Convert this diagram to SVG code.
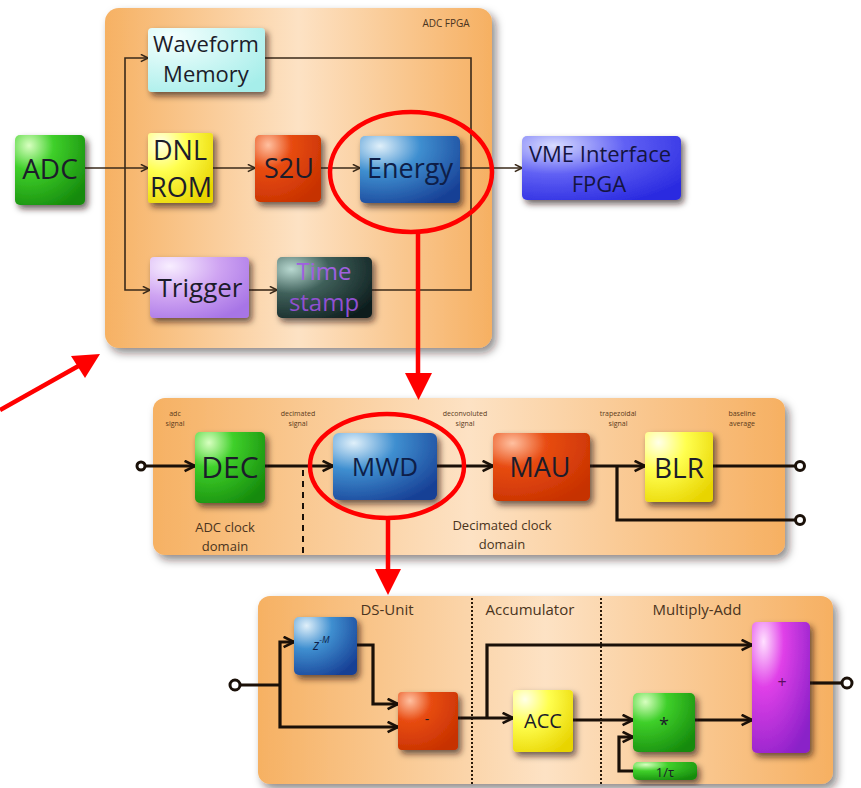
<svg xmlns="http://www.w3.org/2000/svg" width="861" height="788" viewBox="0 0 861 788">
<defs>
<style>
text{font-family:"Open Sans","Noto Sans","Liberation Sans",sans-serif;fill:#1c1c2a}
.big{text-anchor:middle}
.small{font-size:7px;text-anchor:middle;fill:#5a3a1a}
.dom{font-size:13px;text-anchor:middle;fill:#4a3420}
.sec{font-size:15px;text-anchor:middle;fill:#4a3420}
.thin{fill:none;stroke:#3a2a1a;stroke-width:1.6}
.thick{fill:none;stroke:#1a1008;stroke-width:3.2}
.red{fill:none;stroke:#ff0000;stroke-width:4.5}
.redf{fill:#ff0000}
.port{fill:#fff;stroke:#1a1008;stroke-width:3}
</style>
<linearGradient id="pan" x1="0" y1="0" x2="1" y2="0">
<stop offset="0" stop-color="#f6b163"/><stop offset="0.5" stop-color="#fde2c4"/><stop offset="1" stop-color="#f6b062"/>
</linearGradient>
<radialGradient id="gGreen" cx="0.2" cy="0.15" r="1"><stop offset="0" stop-color="#d8ffc0"/><stop offset="0.35" stop-color="#3fd02a"/><stop offset="1" stop-color="#158a0c"/></radialGradient>
<radialGradient id="gYellow" cx="0.2" cy="0.15" r="1"><stop offset="0" stop-color="#ffffe8"/><stop offset="0.4" stop-color="#ffff50"/><stop offset="1" stop-color="#e8d400"/></radialGradient>
<radialGradient id="gRed" cx="0.2" cy="0.15" r="1"><stop offset="0" stop-color="#ffc0a0"/><stop offset="0.35" stop-color="#e84c12"/><stop offset="1" stop-color="#c63000"/></radialGradient>
<radialGradient id="gBlue" cx="0.2" cy="0.15" r="1"><stop offset="0" stop-color="#e0f0fa"/><stop offset="0.4" stop-color="#3f8fd0"/><stop offset="1" stop-color="#173f95"/></radialGradient>
<radialGradient id="gCyan" cx="0.2" cy="0.15" r="1"><stop offset="0" stop-color="#f4fffe"/><stop offset="1" stop-color="#a6eeea"/></radialGradient>
<radialGradient id="gLav" cx="0.2" cy="0.15" r="1"><stop offset="0" stop-color="#f8eeff"/><stop offset="0.5" stop-color="#cfa4f2"/><stop offset="1" stop-color="#a774e6"/></radialGradient>
<radialGradient id="gTeal" cx="0.15" cy="0.2" r="1"><stop offset="0" stop-color="#b8d8d0"/><stop offset="0.4" stop-color="#3f605a"/><stop offset="1" stop-color="#0e1e1e"/></radialGradient>
<radialGradient id="gVme" cx="0.2" cy="0.15" r="1"><stop offset="0" stop-color="#d8dcff"/><stop offset="0.45" stop-color="#6060f4"/><stop offset="1" stop-color="#2a2ae0"/></radialGradient>
<radialGradient id="gMag" cx="0.2" cy="0.15" r="1"><stop offset="0" stop-color="#ffe0ff"/><stop offset="0.35" stop-color="#e040e8"/><stop offset="1" stop-color="#8a20c8"/></radialGradient>
<filter id="sh" x="-20%" y="-20%" width="150%" height="150%"><feDropShadow dx="3" dy="4" stdDeviation="3" flood-color="#201008" flood-opacity="0.65"/></filter>
<filter id="psh" x="-10%" y="-10%" width="120%" height="125%"><feDropShadow dx="4" dy="5" stdDeviation="4" flood-color="#201008" flood-opacity="0.5"/></filter>
<marker id="aT" viewBox="0 0 10 10" refX="9" refY="5" markerWidth="9" markerHeight="9" markerUnits="userSpaceOnUse" orient="auto"><path d="M1,1 L9,5 L1,9" fill="none" stroke="#3a2a1a" stroke-width="1.8"/></marker>
<marker id="aK" viewBox="0 0 10 10" refX="9" refY="5" markerWidth="13" markerHeight="13" markerUnits="userSpaceOnUse" orient="auto"><path d="M1,1 L9,5 L1,9" fill="none" stroke="#1a1008" stroke-width="2"/></marker>
</defs>
<rect width="861" height="788" fill="#ffffff"/>

<g id="panel-adc-fpga">
<rect x="105" y="8" width="387" height="340" rx="14" fill="url(#pan)" filter="url(#psh)"/>
<text x="446" y="27" style="font-size:10px;fill:#4a3420" text-anchor="middle">ADC FPGA</text>
</g>
<g id="panel-mwd">
<rect x="153" y="398" width="632" height="157" rx="12" fill="url(#pan)" filter="url(#psh)"/>
<text class="small" x="175" y="416">adc</text><text class="small" x="175" y="426">signal</text>
<text class="small" x="298" y="416">decimated</text><text class="small" x="298" y="426">signal</text>
<text class="small" x="465" y="416">deconvoluted</text><text class="small" x="465" y="426">signal</text>
<text class="small" x="618" y="416">trapezoidal</text><text class="small" x="618" y="426">signal</text>
<text class="small" x="742" y="416">baseline</text><text class="small" x="742" y="426">average</text>
<text class="dom" x="225" y="532">ADC clock</text><text class="dom" x="225" y="551">domain</text>
<text class="dom" x="502" y="530">Decimated clock</text><text class="dom" x="502" y="549">domain</text>
</g>
<g id="panel-ds">
<rect x="258" y="596" width="575" height="188" rx="12" fill="url(#pan)" filter="url(#psh)"/>
<text class="sec" x="387" y="615">DS-Unit</text>
<text class="sec" x="530" y="615">Accumulator</text>
<text class="sec" x="697" y="615">Multiply-Add</text>
</g>

<g id="connectors">
<path class="thin" d="M85,168 H148" marker-end="url(#aT)"/>
<path class="thin" d="M125,168 V58 H148" marker-end="url(#aT)"/>
<path class="thin" d="M125,168 V290 H150" marker-end="url(#aT)"/>
<path class="thin" d="M213,168 H255" marker-end="url(#aT)"/>
<path class="thin" d="M321,168 H360" marker-end="url(#aT)"/>
<path class="thin" d="M460,168 H522" marker-end="url(#aT)"/>
<path class="thin" d="M265,58 H471 V290 H372"/>
<path class="thin" d="M249,290 H277" marker-end="url(#aT)"/>

<path class="thick" d="M145,466 H195" marker-end="url(#aK)"/>
<path class="thick" d="M265,466 H333" marker-end="url(#aK)"/>
<path class="thick" d="M437,466 H493" marker-end="url(#aK)"/>
<path class="thick" d="M590,466 H645" marker-end="url(#aK)"/>
<path class="thick" d="M713,466 H795"/>
<path class="thick" d="M617,466 V520 H795"/>
<path d="M303,470 V555" fill="none" stroke="#1a1008" stroke-width="2" stroke-dasharray="6,5"/>
<circle class="port" cx="141" cy="466" r="4"/>
<circle class="port" cx="800" cy="466" r="4.5"/>
<circle class="port" cx="800" cy="520" r="4.5"/>

<path d="M472,598 V784 M601,598 V784" fill="none" stroke="#2a1a0a" stroke-width="2" stroke-dasharray="2,2"/>
<path class="thick" d="M240,685 H280"/>
<path class="thick" d="M280,685 V642 H294" marker-end="url(#aK)"/>
<path class="thick" d="M280,685 V727 H398" marker-end="url(#aK)"/>
<path class="thick" d="M357,645 H373 V704 H398" marker-end="url(#aK)"/>
<path class="thick" d="M458,718 H513" marker-end="url(#aK)"/>
<path class="thick" d="M487,718 V645 H752" marker-end="url(#aK)"/>
<path class="thick" d="M573,720 H633" marker-end="url(#aK)"/>
<path class="thick" d="M695,720 H752" marker-end="url(#aK)"/>
<path class="thick" d="M633,771 H619 V737 H633" marker-end="url(#aK)"/>
<path class="thick" d="M810,683 H842"/>
<circle class="port" cx="235" cy="685" r="5"/>
<circle class="port" cx="847" cy="683" r="5"/>
</g>

<g id="node-adc"><rect x="15" y="135" width="70" height="70" rx="5" fill="url(#gGreen)" filter="url(#sh)"/><text class="big" x="50" y="179" style="font-size:28px">ADC</text></g>
<g id="node-waveform"><rect x="148" y="28" width="117" height="64" rx="4" fill="url(#gCyan)" filter="url(#sh)"/><text class="big" x="206" y="52" style="font-size:22px">Waveform</text><text class="big" x="206" y="82" style="font-size:22px">Memory</text></g>
<g id="node-dnl"><rect x="148" y="133" width="65" height="70" rx="3" fill="url(#gYellow)" filter="url(#sh)"/><text class="big" x="180" y="160" style="font-size:27px">DNL</text><text class="big" x="181" y="197" style="font-size:27px">ROM</text></g>
<g id="node-s2u"><rect x="255" y="135" width="66" height="67" rx="5" fill="url(#gRed)" filter="url(#sh)"/><text class="big" x="289" y="178" style="font-size:27px">S2U</text></g>
<g id="node-energy"><rect x="360" y="136" width="100" height="67" rx="5" fill="url(#gBlue)" filter="url(#sh)"/><text class="big" x="410" y="178" style="font-size:27px;fill:#0e1e48">Energy</text></g>
<g id="node-vme"><rect x="522" y="136" width="159" height="64" rx="5" fill="url(#gVme)" filter="url(#sh)"/><text class="big" x="600" y="162" style="font-size:22px;fill:#141440">VME Interface</text><text class="big" x="599" y="192" style="font-size:22px;fill:#141440">FPGA</text></g>
<g id="node-trigger"><rect x="150" y="257" width="99" height="61" rx="4" fill="url(#gLav)" filter="url(#sh)"/><text class="big" x="200" y="297" style="font-size:26px">Trigger</text></g>
<g id="node-timestamp"><rect x="277" y="257" width="95" height="61" rx="5" fill="url(#gTeal)" filter="url(#sh)"/><text class="big" x="324" y="280" style="font-size:24px;fill:#a060e0">Time</text><text class="big" x="324" y="311" style="font-size:24px;fill:#9050d0">stamp</text></g>

<g id="node-dec"><rect x="195" y="432" width="70" height="71" rx="5" fill="url(#gGreen)" filter="url(#sh)"/><text class="big" x="230" y="478" style="font-size:30px">DEC</text></g>
<g id="node-mwd"><rect x="333" y="433" width="104" height="67" rx="6" fill="url(#gBlue)" filter="url(#sh)"/><text class="big" x="385" y="476" style="font-size:26px;fill:#0e1e48">MWD</text></g>
<g id="node-mau"><rect x="493" y="433" width="97" height="68" rx="5" fill="url(#gRed)" filter="url(#sh)"/><text class="big" x="540" y="477" style="font-size:27px">MAU</text></g>
<g id="node-blr"><rect x="645" y="432" width="68" height="70" rx="4" fill="url(#gYellow)" filter="url(#sh)"/><text class="big" x="679" y="478" style="font-size:28px">BLR</text></g>

<g id="node-zm"><rect x="294" y="617" width="63" height="58" rx="5" fill="url(#gBlue)" filter="url(#sh)"/><text x="313" y="650" style="font-size:14px;font-style:italic;fill:#0e1e48">z<tspan dy="-7" style="font-size:9px">-M</tspan></text></g>
<g id="node-minus"><rect x="398" y="692" width="60" height="58" rx="4" fill="url(#gRed)" filter="url(#sh)"/><text class="big" x="427" y="724" style="font-size:14px">-</text></g>
<g id="node-acc"><rect x="513" y="690" width="60" height="62" rx="4" fill="url(#gYellow)" filter="url(#sh)"/><text class="big" x="543" y="728" style="font-size:20px">ACC</text></g>
<g id="node-mult"><rect x="633" y="693" width="62" height="59" rx="5" fill="url(#gGreen)" filter="url(#sh)"/><text class="big" x="664" y="731" style="font-size:18px">*</text></g>
<g id="node-tau"><rect x="633" y="762" width="64" height="18" rx="5" fill="url(#gGreen)" filter="url(#sh)"/><text class="big" x="665" y="777" style="font-size:13px">1/τ</text></g>
<g id="node-plus"><rect x="752" y="622" width="58" height="131" rx="5" fill="url(#gMag)" filter="url(#sh)"/><text class="big" x="782" y="688" style="font-size:16px;fill:#5a1060">+</text></g>

<g id="highlights">
<ellipse class="red" cx="411" cy="172" rx="81" ry="60"/>
<path class="red" d="M418,232 V375"/>
<polygon class="redf" points="405,373 432,373 418.5,400"/>
<ellipse class="red" cx="387" cy="466" rx="77" ry="52"/>
<path class="red" d="M388,518 V571"/>
<polygon class="redf" points="375,569 401,569 388,595"/>
<path class="red" d="M0,410 L82,364"/>
<polygon class="redf" points="100,354 71,356 85,378"/>
</g>
</svg>
